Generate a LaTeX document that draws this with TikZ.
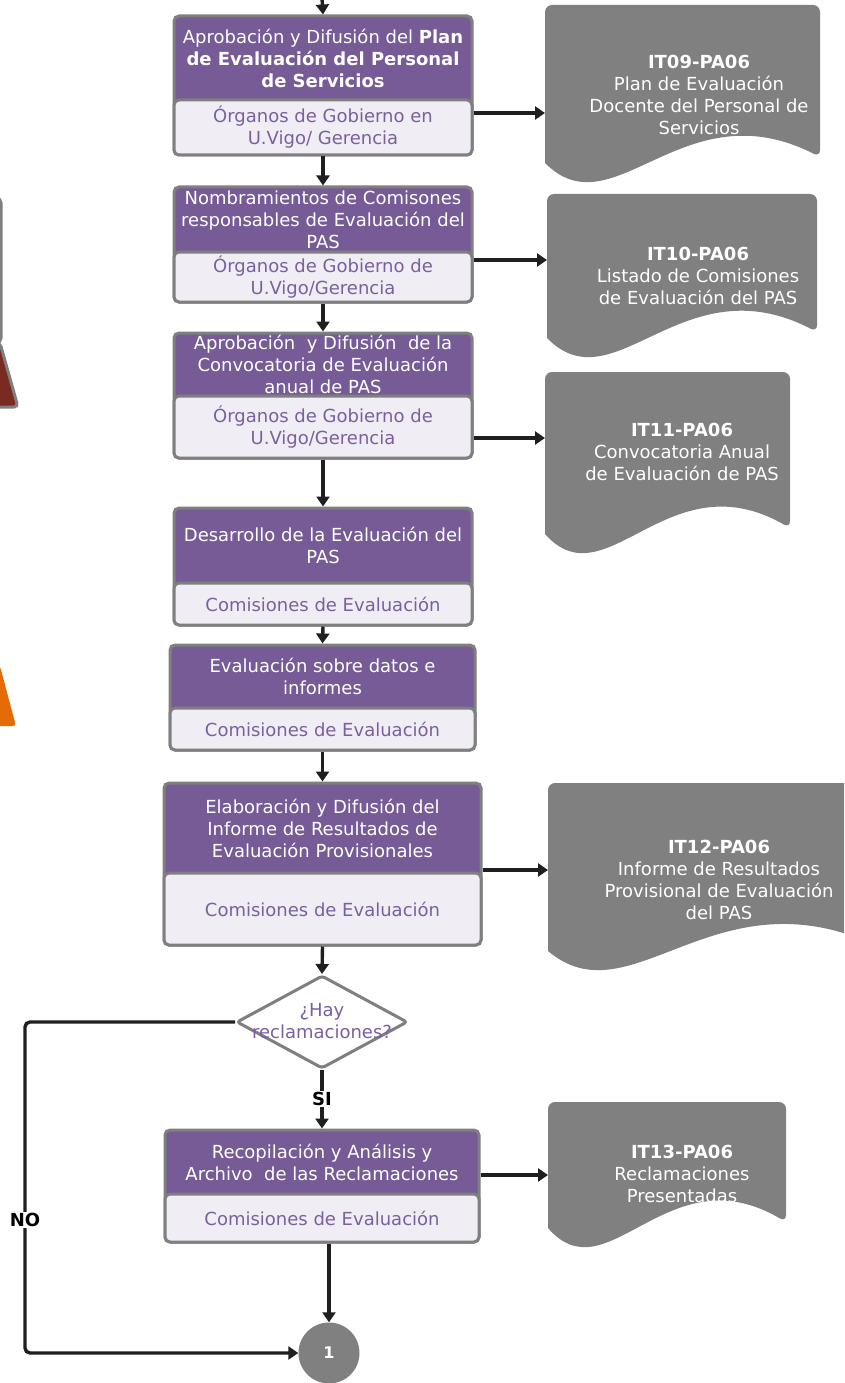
\documentclass[tikz,border=0pt]{standalone}
\usepackage{fontspec}
\setmainfont{DejaVu Sans}
\usetikzlibrary{arrows.meta,shapes.geometric}
\definecolor{boxpurple}{RGB}{118,91,151}
\definecolor{boxlight}{RGB}{240,238,244}
\definecolor{bordergray}{RGB}{127,127,127}
\definecolor{docgray}{RGB}{128,128,128}
\definecolor{txtpurple}{RGB}{122,96,160}
\definecolor{darkred}{RGB}{122,42,34}
\definecolor{orangefill}{RGB}{227,108,9}
\newcommand\myfs{\fontsize{18}{22}\selectfont}
\tikzset{
  boxbg/.style={draw=bordergray, line width=3pt, fill=boxpurple, rounded corners=5pt, inner sep=0pt},
  boxlow/.style={draw=bordergray, line width=3pt, fill=boxlight, rounded corners=5pt, inner sep=0pt, text=txtpurple, align=center, font=\myfs},
  toptext/.style={text=white, align=center, font=\myfs, inner sep=0pt},
  doctext/.style={text=white, align=center, font=\myfs, inner sep=0pt},
  arr/.style={line width=3.4pt, draw=black!88, -{Triangle[length=10pt,width=13pt]}},
  lbl/.style={font=\bfseries\myfs, fill=white, inner sep=1pt},
}
\newcommand\procbox[8]{%
  \pgfmathsetmacro\cx{(#2+#3)/2}%
  \pgfmathsetmacro\ww{#3-#2}%
  \pgfmathsetmacro\ch{(#4+#6)/2}%
  \pgfmathsetmacro\hh{#6-#4}%
  \pgfmathsetmacro\ct{(#4+#5)/2}%
  \pgfmathsetmacro\cl{(#5+#6)/2}%
  \pgfmathsetmacro\hl{#6-#5}%
  \node[boxbg, minimum width=\ww pt, minimum height=\hh pt] (#1) at (\cx,\ch) {};
  \node[toptext] (#1t) at (\cx,\ct) {#7};
  \node[boxlow, minimum width=\ww pt, minimum height=\hl pt] (#1b) at (\cx,\cl) {#8};
}
\newcommand\docshape[8]{%
  \pgfmathsetmacro\dw{#4-#2}%
  \pgfmathsetmacro\pa{#2+0.5*\dw}%
  \pgfmathsetmacro\pb{#2+0.25*\dw}%
  \pgfmathsetmacro\ya{#5-70}%
  \pgfmathsetmacro\yb{#5+75}%
  \pgfmathsetmacro\yl{#5+6}%
  \fill[docgray, rounded corners=7pt] (#2,\yl) -- (#2,#3) -- (#4,#3) -- (#4,#5)
     [sharp corners] .. controls (\pa,\ya) and (\pb,\yb) .. (#2,\yl) -- cycle;
  \node[doctext] (#1) at (#6,#7) {#8};
}
\begin{document}
\begin{tikzpicture}[x=1pt,y=-1pt]
\useasboundingbox (0,0) rectangle (844,1383);
\clip (0,0) rectangle (844,1383);
% partial shapes at left edge
\draw[bordergray, line width=3pt, fill=white, rounded corners=5pt] (-60,198) -- (1,198) -- (1,343) -- (-60,343);
\draw[bordergray, line width=3pt, fill=darkred, rounded corners=4pt] (-60,343) -- (0,343) -- (18,407) -- (-60,407);
\fill[orangefill, rounded corners=3pt] (-60,666) -- (0,666) -- (16,726) -- (-60,726) -- cycle;

% documents
\docshape{d1}{545}{5}{820}{157}{699}{95}{\textbf{IT09-PA06}\\Plan de Evaluación\\Docente del Personal de\\Servicios}
\docshape{d2}{547}{194}{817}{332}{698}{276}{\textbf{IT10-PA06}\\Listado de Comisiones\\de Evaluación del PAS}
\docshape{d3}{545}{372}{790}{528}{682}{452}{\textbf{IT11-PA06}\\Convocatoria Anual\\de Evaluación de PAS}
\docshape{d4}{548}{783}{875}{945}{719}{880}{\textbf{IT12-PA06}\\Informe de Resultados\\Provisional de Evaluación\\del PAS}
\docshape{d5}{548}{1102}{786}{1222}{682}{1174}{\textbf{IT13-PA06}\\Reclamaciones\\Presentadas}

% process boxes
\procbox{b1}{174}{472}{16}{100}{155}{Aprobación y Difusión del \textbf{Plan}\\\textbf{de Evaluación del Personal}\\\textbf{de Servicios}}{Órganos de Gobierno en\\U.Vigo/ Gerencia}
\procbox{b2}{174}{472}{187}{252}{302}{Nombramientos de Comisones\\responsables de Evaluación del\\PAS}{Órganos de Gobierno de\\U.Vigo/Gerencia}
\procbox{b3}{174}{472}{333}{396}{458}{Aprobación~ y Difusión~ de la\\Convocatoria de Evaluación\\anual de PAS}{Órganos de Gobierno de\\U.Vigo/Gerencia}
\procbox{b4}{174}{472}{508}{583}{625}{Desarrollo de la Evaluación del\\PAS}{Comisiones de Evaluación}
\procbox{b5}{170}{475}{645}{708}{750}{Evaluación sobre datos e\\informes}{Comisiones de Evaluación}
\procbox{b6}{164}{481}{783}{873}{945}{Elaboración y Difusión del\\Informe de Resultados de\\Evaluación Provisionales}{Comisiones de Evaluación}
\procbox{b7}{165}{479}{1130}{1194}{1242}{Recopilación y Análisis y\\Archivo~ de las Reclamaciones}{Comisiones de Evaluación}

% decision
\node[diamond, draw=bordergray, line width=3pt, fill=white, rounded corners=3pt, minimum width=171pt, minimum height=93pt, inner sep=0pt] (dia) at (322,1022) {};
\node[text=txtpurple, align=center, font=\myfs, inner sep=0pt] (diat) at (322,1021) {¿Hay\\reclamaciones?};

% end connector
\node[circle, fill=docgray, minimum size=61pt, inner sep=0pt, text=white, font=\bfseries\fontsize{16}{18}\selectfont] (c1) at (329,1353) {1};

% coordinates
\coordinate (top) at (322,-2);
\coordinate (a1) at (545,113);
\coordinate (a2) at (547,260);
\coordinate (a3) at (545,438);
\coordinate (a4) at (548,870);
\coordinate (a5) at (548,1175);
\coordinate (n1) at (25,1022);
\coordinate (n2) at (25,1353);

% main flow
\draw[arr] (top) -- (b1.north);
\draw[arr] (b1.south) -- (b2.north);
\draw[arr] (b2.south) -- (b3.north);
\draw[arr] (b3.south) -- (b4.north);
\draw[arr] (b4.south) -- (b5.north);
\draw[arr] (b5.south) -- (b6.north);
\draw[arr] (b6.south) -- (dia.north);
\draw[arr] (dia.south) -- node[lbl] (si) {SI} (b7.north);
\draw[arr] (b7.south -| c1.north) -- (c1.north);
\draw[arr, rounded corners=5pt] (dia.west) -- (n1) -- (n2) -- (c1.west);
\node[lbl] (no) at (25,1220) {NO};

% side arrows
\draw[arr] (b1.east |- a1) -- (a1);
\draw[arr] (b2.east |- a2) -- (a2);
\draw[arr] (b3.east |- a3) -- (a3);
\draw[arr] (b6.east |- a4) -- (a4);
\draw[arr] (b7.east |- a5) -- (a5);
\end{tikzpicture}
\end{document}
